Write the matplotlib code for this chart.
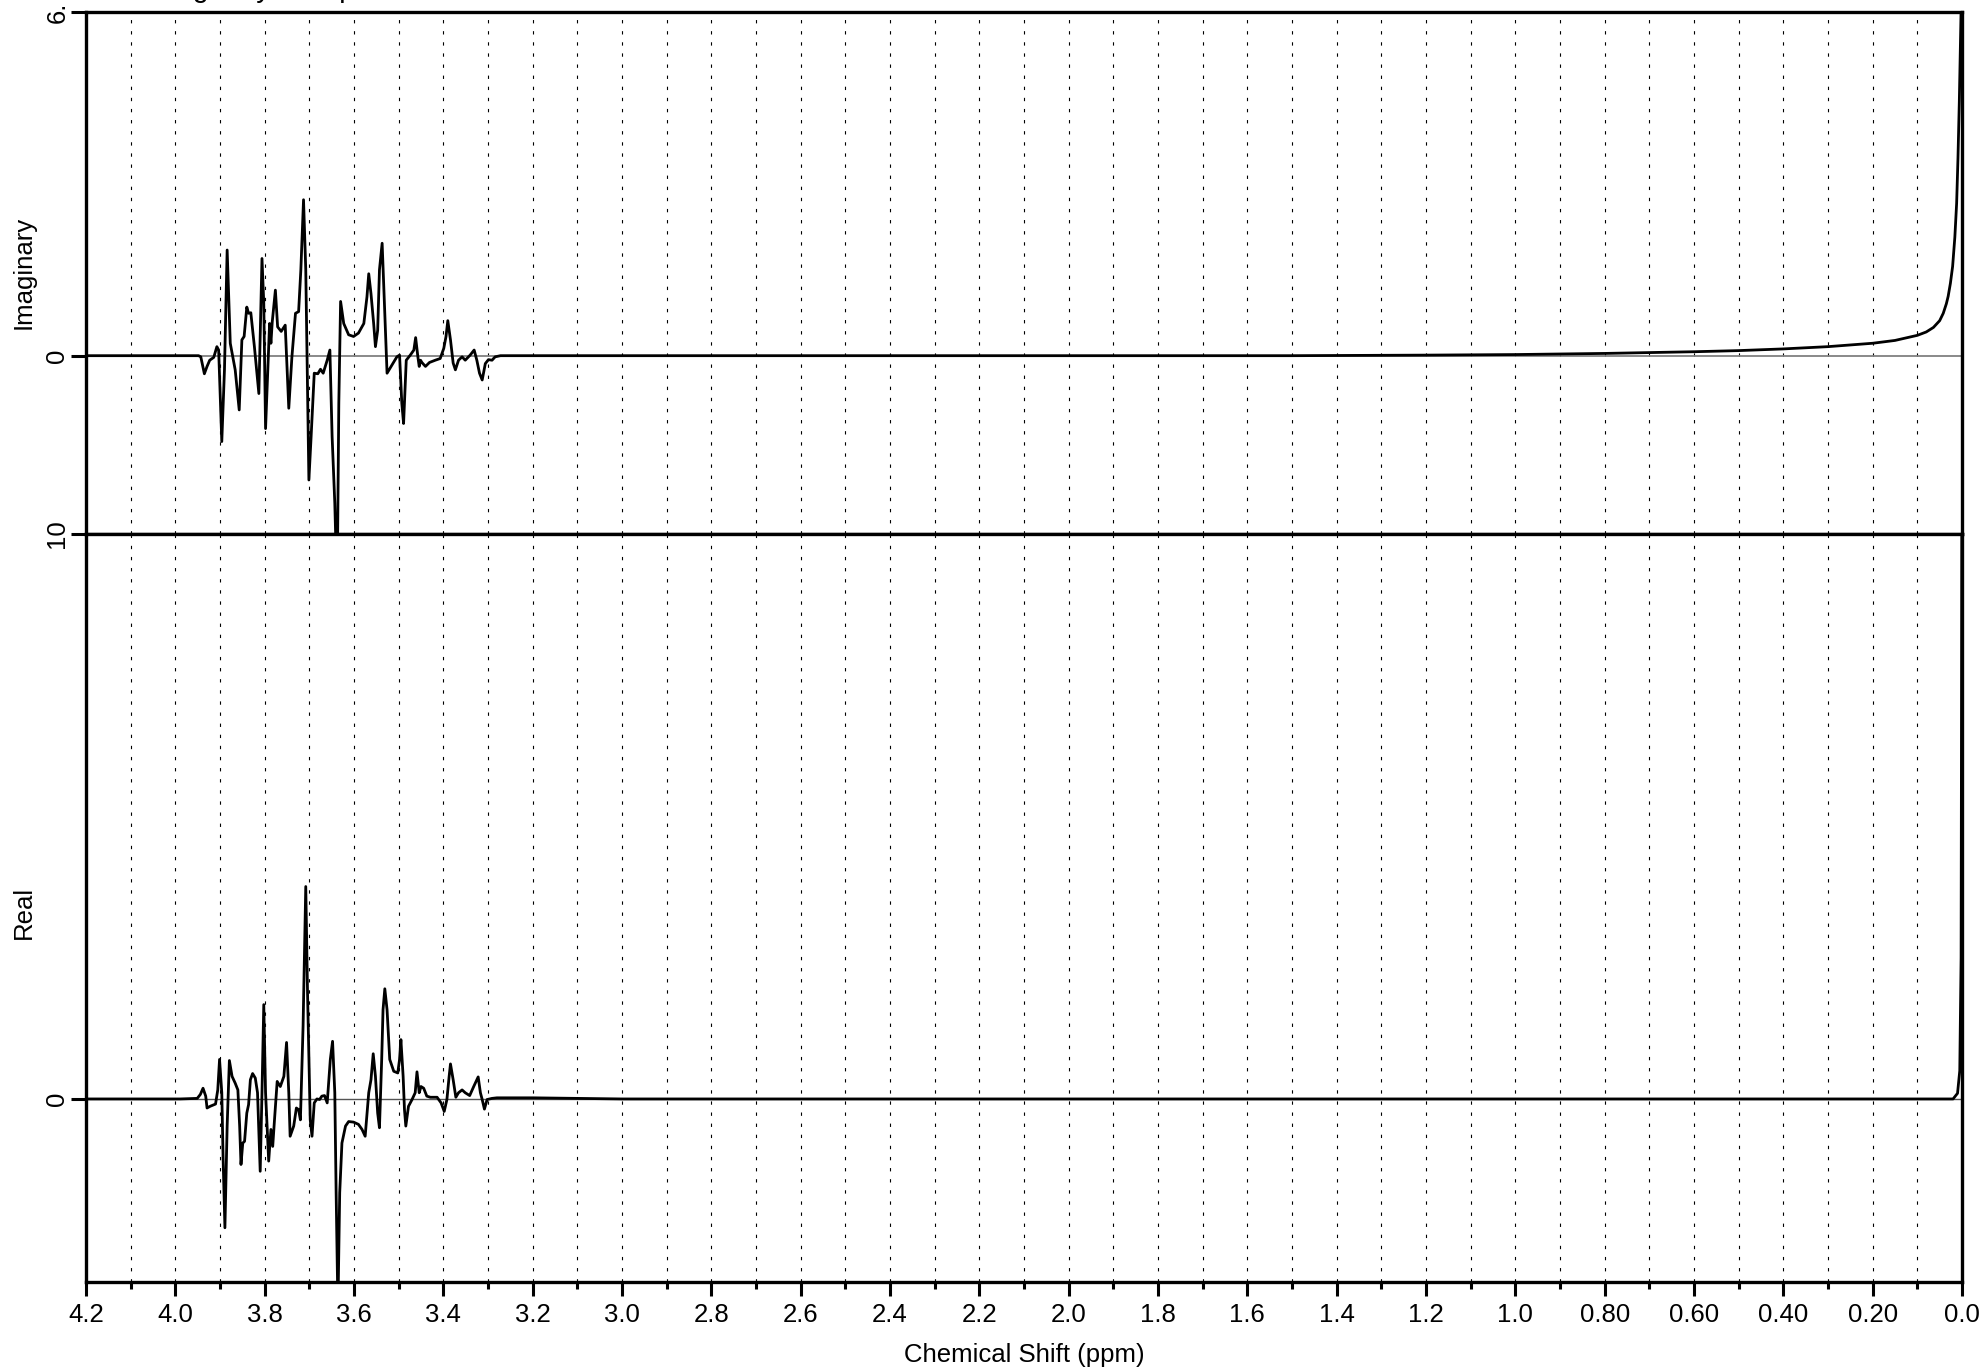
import matplotlib
matplotlib.use("Agg")
import matplotlib.pyplot as plt
from matplotlib.ticker import MultipleLocator

plt.rcParams['font.family'] = ['Liberation Sans', 'DejaVu Sans']

# imaginary part (ppm, intensity)
imag_ppm = [4.2, 3.989, 3.948, 3.943, 3.935, 3.929, 3.923, 3.914, 3.907, 3.903,
            3.896, 3.890, 3.884, 3.877, 3.866, 3.857, 3.851, 3.846, 3.840, 3.836,
            3.831, 3.823, 3.813, 3.806, 3.802, 3.798, 3.789, 3.786, 3.783, 3.776,
            3.771, 3.763, 3.754, 3.746, 3.739, 3.731, 3.724, 3.719, 3.713, 3.708,
            3.701, 3.696, 3.689, 3.681, 3.675, 3.669, 3.660, 3.654, 3.649, 3.643,
            3.640, 3.637, 3.634, 3.630, 3.623, 3.612, 3.601, 3.590, 3.578, 3.571,
            3.567, 3.562, 3.556, 3.552, 3.547, 3.543, 3.537, 3.532, 3.526, 3.517,
            3.504, 3.498, 3.493, 3.489, 3.483, 3.474, 3.466, 3.462, 3.457, 3.454,
            3.451, 3.448, 3.440, 3.431, 3.418, 3.407, 3.399, 3.394, 3.390, 3.384,
            3.378, 3.373, 3.366, 3.358, 3.351, 3.340, 3.331, 3.325, 3.319, 3.313,
            3.306, 3.299, 3.291, 3.284, 3.272, 3.2, 2.5, 2.0, 1.5, 1.2,
            1.0, 0.8, 0.6, 0.5, 0.4, 0.3, 0.2, 0.15, 0.1, 0.08,
            0.064, 0.05, 0.042, 0.035, 0.031, 0.026, 0.021, 0.016, 0.012, 0.009,
            0.006, 0.003, 0.0]
imag_val = [0.0, 0.0, 0.0, -0.02, -0.32, -0.19, -0.08, -0.03, 0.16, 0.10,
            -1.52, -0.25, 1.87, 0.22, -0.25, -0.96, 0.28, 0.34, 0.86, 0.75,
            0.76, 0.16, -0.67, 1.72, 0.93, -1.29, 0.57, 0.22, 0.60, 1.16,
            0.51, 0.43, 0.54, -0.93, -0.02, 0.75, 0.78, 1.52, 2.76, 1.52,
            -2.20, -1.43, -0.31, -0.32, -0.24, -0.31, -0.08, 0.10, -1.43, -2.61,
            -3.50, -3.50, -0.84, 0.96, 0.57, 0.37, 0.34, 0.40, 0.57, 1.04,
            1.45, 1.10, 0.57, 0.16, 0.45, 1.52, 1.99, 0.93, -0.31, -0.19,
            -0.02, 0.01, -0.84, -1.20, -0.08, 0.01, 0.10, 0.32, -0.02, -0.19,
            -0.08, -0.12, -0.19, -0.12, -0.08, -0.05, 0.13, 0.34, 0.62, 0.28,
            -0.13, -0.25, -0.08, -0.02, -0.08, 0.01, 0.10, -0.08, -0.31, -0.43,
            -0.14, -0.07, -0.08, -0.02, 0.0, 0.0, 0.0, 0.0, 0.0, 0.01,
            0.02, 0.04, 0.07, 0.09, 0.12, 0.16, 0.22, 0.27, 0.36, 0.42,
            0.50, 0.62, 0.75, 0.92, 1.05, 1.28, 1.58, 2.10, 2.70, 3.50,
            4.50, 5.70, 7.0]

# real part (ppm, intensity)
real_ppm = [4.2, 3.989, 3.951, 3.944, 3.938, 3.932, 3.929, 3.922, 3.910, 3.905,
            3.901, 3.896, 3.893, 3.889, 3.884, 3.879, 3.873, 3.866, 3.860, 3.856,
            3.853, 3.849, 3.845, 3.840, 3.836, 3.832, 3.827, 3.821, 3.816, 3.810,
            3.806, 3.802, 3.798, 3.791, 3.786, 3.782, 3.778, 3.772, 3.765, 3.757,
            3.751, 3.746, 3.743, 3.735, 3.729, 3.724, 3.720, 3.714, 3.708, 3.704,
            3.698, 3.694, 3.689, 3.683, 3.677, 3.672, 3.666, 3.660, 3.653, 3.648,
            3.643, 3.640, 3.636, 3.632, 3.627, 3.619, 3.612, 3.601, 3.590, 3.582,
            3.575, 3.567, 3.562, 3.557, 3.552, 3.547, 3.543, 3.538, 3.535, 3.531,
            3.526, 3.520, 3.511, 3.502, 3.498, 3.495, 3.490, 3.487, 3.484, 3.478,
            3.470, 3.463, 3.459, 3.454, 3.450, 3.444, 3.437, 3.429, 3.414, 3.405,
            3.398, 3.392, 3.387, 3.384, 3.378, 3.372, 3.366, 3.358, 3.351, 3.341,
            3.332, 3.322, 3.317, 3.313, 3.308, 3.302, 3.291, 3.280, 3.2, 3.0,
            1.0, 0.02, 0.01, 0.005, 0.002, 0.0]
real_val = [0.0, 0.0, 0.01, 0.08, 0.19, 0.05, -0.16, -0.13, -0.09, 0.16,
            0.70, 0.11, -1.07, -2.28, -0.48, 0.68, 0.40, 0.28, 0.16, -0.48,
            -1.16, -0.78, -0.75, -0.25, -0.10, 0.34, 0.45, 0.37, 0.11, -1.28,
            0.11, 1.67, 0.11, -1.10, -0.54, -0.84, -0.37, 0.31, 0.22, 0.40,
            1.00, 0.11, -0.66, -0.48, -0.16, -0.19, -0.37, 1.29, 3.76, 1.87,
            -0.37, -0.66, -0.07, 0.0, -0.01, 0.05, 0.06, -0.07, 0.70, 1.02,
            0.11, -1.66, -3.70, -1.66, -0.78, -0.48, -0.40, -0.41, -0.45, -0.54,
            -0.66, 0.11, 0.34, 0.80, 0.40, -0.25, -0.51, 0.70, 1.58, 1.95,
            1.58, 0.70, 0.49, 0.46, 0.70, 1.05, 0.40, -0.19, -0.48, -0.13,
            -0.01, 0.11, 0.48, 0.11, 0.22, 0.19, 0.05, 0.03, 0.03, -0.07,
            -0.22, -0.01, 0.40, 0.62, 0.34, 0.03, 0.11, 0.16, 0.11, 0.06,
            0.22, 0.39, 0.11, -0.01, -0.18, -0.01, 0.01, 0.02, 0.02, 0.0,
            0.0, 0.0, 0.1, 0.5, 2.5, 12.0]

x_major = [4.2, 4.0, 3.8, 3.6, 3.4, 3.2, 3.0, 2.8, 2.6, 2.4, 2.2, 2.0,
           1.8, 1.6, 1.4, 1.2, 1.0, 0.8, 0.6, 0.4, 0.2, 0.0]
x_labels = ['4.2', '4.0', '3.8', '3.6', '3.4', '3.2', '3.0', '2.8', '2.6', '2.4',
            '2.2', '2.0', '1.8', '1.6', '1.4', '1.2', '1.0', '0.80', '0.60',
            '0.40', '0.20', '0.0']

W, H = 1982, 1369
fig = plt.figure(figsize=(W / 100, H / 100), dpi=100)
ax1 = fig.add_axes([86 / W, 1 - 534 / H, 1876 / W, 522 / H])
ax2 = fig.add_axes([86 / W, 1 - 1282 / H, 1876 / W, 748 / H])

grid_style = dict(color='black', linestyle=(0, (3, 7)), linewidth=0.8)

for ax in (ax1, ax2):
    ax.set_xlim(4.2, 0.0)
    ax.set_xticks(x_major)
    ax.xaxis.set_minor_locator(MultipleLocator(0.1))
    ax.xaxis.grid(True, which='both', **grid_style)
    ax.set_axisbelow(True)
    for sp in ax.spines.values():
        sp.set_linewidth(2.4)
    ax.tick_params(axis='y', direction='out', length=11, width=2.2, pad=1,
                   labelsize=18.5)

ax1.axhline(0, color='#808080', lw=1.3, zorder=1.5)
ax1.plot(imag_ppm, imag_val, color='black', lw=2.0, solid_joinstyle='round')
ax1.set_ylim(-3.156, 6.083)
ax1.set_yticks([6.083, 0])
ax1.set_yticklabels(['6.', '0'])
ax1.tick_params(axis='x', which='both', length=0, labelbottom=False)

ax2.axhline(0, color='#555555', lw=1.0, zorder=1.5)
ax2.plot(real_ppm, real_val, color='black', lw=2.0, solid_joinstyle='round')
ax2.set_ylim(-3.24, 10.0)
ax2.set_yticks([10, 0])
ax2.set_yticklabels(['10', '0'])
ax2.set_xticklabels(x_labels)
ax2.tick_params(axis='x', which='major', direction='out', length=10, width=2.2,
                pad=5, labelsize=18.5)
ax2.tick_params(axis='x', which='minor', direction='out', length=5, width=2.2)

for ax in (ax1, ax2):
    for lab in ax.get_yticklabels():
        lab.set_rotation(90)
        lab.set_va('center')

fig.text(24 / W, 1 - 272 / H, 'Imaginary', rotation=90, ha='center',
         va='center', fontsize=18.5)
fig.text(24 / W, 1 - 912 / H, 'Real', rotation=90, ha='center',
         va='center', fontsize=18.5)
fig.text(1024 / W, 1 - 1362 / H, 'Chemical Shift (ppm)', ha='center',
         va='baseline', fontsize=18.5)
fig.text(145 / W, 1 + 3 / H, 'Imaginary Component', ha='left',
         va='baseline', fontsize=20.6)

fig.savefig('out.png', dpi=100)
